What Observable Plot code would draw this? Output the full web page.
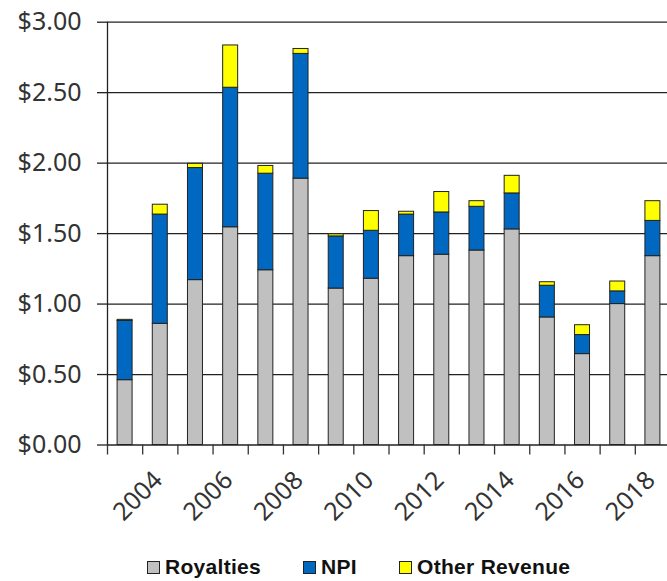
<!DOCTYPE html>
<html>
<head>
<meta charset="utf-8">
<script src="https://cdn.jsdelivr.net/npm/d3@7"></script>
<script src="https://cdn.jsdelivr.net/npm/@observablehq/plot@0.6"></script>
<style>
  html, body { margin: 0; padding: 0; background: #fff; overflow: hidden; }
  #wrap { position: relative; width: 667px; height: 581px; }
  #legend { position: absolute; left: 147px; top: 555px; display: flex; align-items: center;
    font-family: "Liberation Sans", Arial, sans-serif; font-weight: bold; font-size: 21px; color: #111; letter-spacing: 0.3px; }
  .item { display: flex; align-items: center; margin-right: 42px; }
  .sw { width: 11px; height: 11px; border: 1px solid #222; margin-right: 5px; }
</style>
</head>
<body>
<div id="wrap"><div id="chart"></div><div id="legend"></div></div>
<script>
const years = [2003, 2004, 2005, 2006, 2007, 2008, 2009, 2010, 2011, 2012, 2013, 2014, 2015, 2016, 2017, 2018];
const royalties = [0.46, 0.86, 1.17, 1.545, 1.24, 1.89, 1.11, 1.18, 1.34, 1.35, 1.38, 1.53, 0.905, 0.645, 1.00, 1.34];
const npi       = [0.42, 0.775, 0.795, 0.99, 0.685, 0.885, 0.37, 0.34, 0.295, 0.30, 0.31, 0.255, 0.225, 0.135, 0.09, 0.25];
const other     = [0.008, 0.07, 0.03, 0.30, 0.055, 0.035, 0.015, 0.14, 0.02, 0.145, 0.04, 0.125, 0.025, 0.07, 0.07, 0.14];
const seriesNames = ["Royalties", "NPI", "Other Revenue"];
const seriesColors = ["#c0c0c0", "#0068c0", "#ffff00"];
const yTicks = [0, 0.5, 1, 1.5, 2, 2.5, 3];
const labelYears = [2004, 2006, 2008, 2010, 2012, 2014, 2016, 2018];

const seriesValues = [royalties, npi, other];
const data = seriesNames.flatMap((s, i) => years.map((y, j) => ({year: y, series: s, value: seriesValues[i][j]})));
const boundaries = years.concat([years[years.length - 1] + 1]);

const chart = Plot.plot({
  width: 667,
  height: 535,
  marginLeft: 107,
  marginRight: -3,
  marginTop: 21.7,
  marginBottom: 90.5,
  style: {fontFamily: "'Noto Sans', sans-serif", color: "#333", background: "#fff"},
  x: {type: "linear", domain: [years[0], years[years.length - 1] + 1], axis: null},
  y: {domain: [0, 3], axis: null},
  color: {domain: seriesNames, range: seriesColors},
  marks: [
    Plot.ruleY(yTicks, {stroke: "#222", strokeWidth: 1.3}),
    Plot.axisY(yTicks, {tickSize: 10, tickPadding: 16, stroke: "#222", strokeWidth: 1.3, label: null,
      tickFormat: d => "$" + d.toFixed(2), fontSize: 25, fill: "#333"}),
    Plot.axisX(boundaries, {tickSize: 10, stroke: "#333", strokeWidth: 1.3, tickFormat: () => "", label: null}),
    Plot.axisX(labelYears.map(y => y + 0.5), {tickSize: 0, tickPadding: 22, tickRotate: -45, label: null,
      tickFormat: d => String(d - 0.5), fontSize: 25, fill: "#333", dy: 9, dx: -2}),
    Plot.ruleX([years[0]], {stroke: "#222", strokeWidth: 1.3}),
    Plot.rectY(data, {x: "year", interval: 1, y: "value", fill: "series", stroke: "#222", strokeWidth: 1,
      insetLeft: 10.1, insetRight: 10.1})
  ]
});
document.getElementById("chart").appendChild(chart);

const legend = document.getElementById("legend");
seriesNames.forEach((s, i) => {
  const it = document.createElement("div");
  it.className = "item";
  const sw = document.createElement("div");
  sw.className = "sw";
  sw.style.background = seriesColors[i];
  const t = document.createElement("span");
  t.textContent = s;
  it.appendChild(sw); it.appendChild(t);
  legend.appendChild(it);
});
</script>
</body>
</html>
